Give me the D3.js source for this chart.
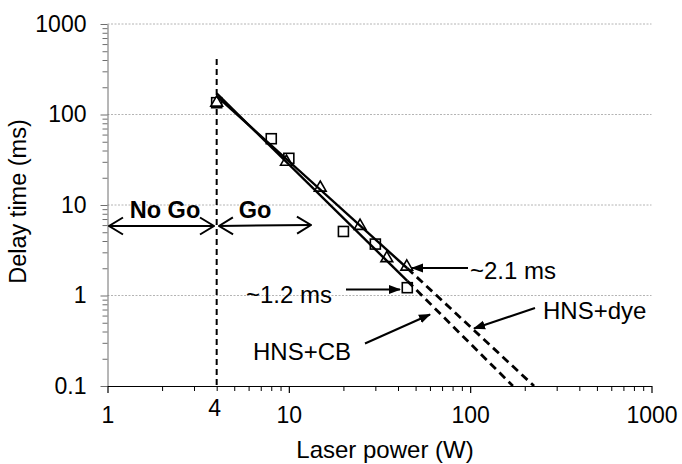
<!DOCTYPE html>
<html>
<head>
<meta charset="utf-8">
<script src="https://cdn.jsdelivr.net/npm/d3@7"></script>
<style>
    html, body { margin: 0; padding: 0; background: #fff; }
    svg text { font-family: Arial, 'Liberation Sans', sans-serif; fill: #000; }
</style>
</head>
<body>
<div id="chart"></div>
<script>

// HNS + carbon black (squares)
var cbPower = [ 4, 8, 10, 20, 30, 45 ];
var cbDelay = [ 135, 54, 32.8, 5.1, 3.7, 1.22 ];

// HNS + dye (triangles)
var dyePower = [ 4, 9.7, 14.9, 24.7, 34.7, 44.7 ];
var dyeDelay = [ 135, 30, 15.5, 5.86, 2.58, 2.08 ];

// trend lines: solid part then dashed extrapolation
var cbFitPower = [ 4, 45, 172 ];
var cbFitDelay = [ 171, 1.45, 0.1 ];
var dyeFitPower = [ 4, 45, 225 ];
var dyeFitDelay = [ 160, 2.0, 0.1 ];

var xTicks = [ 1, 10, 100, 1000 ];
var yTicks = [ 0.1, 1, 10, 100, 1000 ];
var thresholdPower = 4;

var width = 682,
    height = 464;

var svg = d3.select('#chart').append('svg')
    .attr('width', width)
    .attr('height', height);

var x = d3.scaleLog()
    .domain([ 1, 1000 ])
    .range([ 107.5, 651.5 ]);

var y = d3.scaleLog()
    .domain([ 0.1, 1000 ])
    .range([ 386, 24 ]);

function minors ( lo, hi ) {

    var out = [];
    for ( var d = lo; d < hi; d *= 10 ) {
        for ( var k = 2; k < 10; k ++ ) out.push( d * k );
    }
    return out;

}

var fmt = function ( d ) { return d < 1 ? d.toFixed(1) : String( d ) };

/* defs */

var defs = svg.append('defs');

defs.append('marker')
    .attr('id', 'head')
    .attr('viewBox', '0 0 12 10')
    .attr('refX', 11)
    .attr('refY', 5)
    .attr('markerWidth', 12)
    .attr('markerHeight', 10)
    .attr('markerUnits', 'userSpaceOnUse')
    .attr('orient', 'auto')
    .append('path')
    .attr('d', 'M0,0.5 L12,5 L0,9.5 Z')
    .style('fill', '#000');

defs.append('marker')
    .attr('id', 'chevron')
    .attr('viewBox', '0 0 16 20')
    .attr('refX', 15)
    .attr('refY', 10)
    .attr('markerWidth', 16)
    .attr('markerHeight', 20)
    .attr('markerUnits', 'userSpaceOnUse')
    .attr('orient', 'auto-start-reverse')
    .append('path')
    .attr('d', 'M1,1.5 L15,10 L1,18.5')
    .style('fill', 'none')
    .style('stroke', '#000')
    .style('stroke-width', 2);

// grid

svg.append('g').selectAll('line')
    .data( yTicks.slice(1) )
    .enter().append('line')
    .attr('x1', x(1))
    .attr('x2', x(1000))
    .attr('y1', function (d) { return y(d) })
    .attr('y2', function (d) { return y(d) })
    .style('stroke', '#b4b4b4')
    .style('stroke-width', 1)
    .style('stroke-dasharray', '2,1.5');

// axes

var yMinor = svg.append('g')
    .attr('transform', 'translate(' + x(1) + ',0)')
    .call( d3.axisLeft(y).tickValues( minors( 0.1, 1000 ) ).tickSize(5).tickFormat('') );

var yAxis = svg.append('g')
    .attr('transform', 'translate(' + x(1) + ',0)')
    .call( d3.axisLeft(y).tickValues( yTicks ).tickSize(7).tickSizeOuter(0).tickPadding(14).tickFormat( fmt ) );

var xMinor = svg.append('g')
    .attr('transform', 'translate(0,' + y(0.1) + ')')
    .call( d3.axisBottom(x).tickValues( minors( 1, 1000 ) ).tickSize(5).tickFormat('') );

var xAxis = svg.append('g')
    .attr('transform', 'translate(0,' + y(0.1) + ')')
    .call( d3.axisBottom(x).tickValues( xTicks ).tickSize(7).tickSizeOuter(0).tickPadding(14).tickFormat( fmt ) );

[ yMinor, xMinor ].forEach( function ( g ) { g.select('.domain').remove(); });

yMinor.selectAll('line').style('stroke', '#6e6e6e');
yAxis.selectAll('line, path').style('stroke', '#6e6e6e');
xMinor.selectAll('line').style('stroke', '#000');
xAxis.selectAll('line, path').style('stroke', '#000').style('stroke-width', 1.2);

svg.selectAll('.tick text')
    .style('font-size', '23px')
    .style('font-family', 'Arial, "Liberation Sans", sans-serif')
    .style('fill', '#000');

svg.append('text')
    .attr('x', x( thresholdPower ) - 2)
    .attr('y', 416)
    .attr('text-anchor', 'middle')
    .style('font-size', '23px')
    .text( thresholdPower );

// axis titles

svg.append('text')
    .attr('x', 385)
    .attr('y', 458)
    .attr('text-anchor', 'middle')
    .style('font-size', '24px')
    .text('Laser power (W)');

svg.append('text')
    .attr('transform', 'translate(25.5,201.5) rotate(-90)')
    .attr('text-anchor', 'middle')
    .style('font-size', '23.5px')
    .text('Delay time (ms)');

// threshold line

svg.append('line')
    .attr('x1', x( thresholdPower ))
    .attr('x2', x( thresholdPower ))
    .attr('y1', 59)
    .attr('y2', y(0.1))
    .style('stroke', '#000')
    .style('stroke-width', 2)
    .style('stroke-dasharray', '6,4');

// markers

var cb = cbPower.map( function ( p, i ) { return [ p, cbDelay[i] ] } );
var dye = dyePower.map( function ( p, i ) { return [ p, dyeDelay[i] ] } );

svg.append('g').selectAll('rect')
    .data( cb )
    .enter().append('rect')
    .attr('x', function (d) { return x( d[0] ) - 5 })
    .attr('y', function (d) { return y( d[1] ) - 5 })
    .attr('width', 10)
    .attr('height', 10)
    .style('fill', '#fff')
    .style('stroke', '#000')
    .style('stroke-width', 1.6);

var tri = d3.symbol().type( d3.symbolTriangle ).size(60);

svg.append('g').selectAll('path')
    .data( dye )
    .enter().append('path')
    .attr('d', tri)
    .attr('transform', function (d) { return 'translate(' + x( d[0] ) + ',' + y( d[1] ) + ')' })
    .style('fill', '#fff')
    .style('stroke', '#000')
    .style('stroke-width', 1.6);

// trend lines

var line = d3.line()
    .x( function (d) { return x( d[0] ) })
    .y( function (d) { return y( d[1] ) });

[ [ cbFitPower, cbFitDelay ], [ dyeFitPower, dyeFitDelay ] ].forEach( function ( fit ) {

    var pts = fit[0].map( function ( p, i ) { return [ p, fit[1][i] ] } );

    svg.append('path')
        .attr('d', line( pts.slice( 0, 2 ) ))
        .style('fill', 'none')
        .style('stroke', '#000')
        .style('stroke-width', 2.4);

    svg.append('path')
        .attr('d', line( pts.slice( 1 ) ))
        .style('fill', 'none')
        .style('stroke', '#000')
        .style('stroke-width', 2.8)
        .style('stroke-dasharray', '8,5');

});

// annotations

function arrow ( x1, y1, x2, y2, id ) {

    return svg.append('line')
        .attr('x1', x1).attr('y1', y1)
        .attr('x2', x2).attr('y2', y2)
        .style('stroke', '#000')
        .style('stroke-width', 2)
        .attr('marker-end', 'url(#' + id + ')');

}

arrow( 109, 226, 214, 226, 'chevron' ).attr('marker-start', 'url(#chevron)');
arrow( 219, 226, 311, 225, 'chevron' ).attr('marker-start', 'url(#chevron)');

svg.append('text')
    .attr('x', 165).attr('y', 217.5)
    .attr('text-anchor', 'middle')
    .style('font-size', '23.5px')
    .style('font-weight', 'bold')
    .text('No Go');

svg.append('text')
    .attr('x', 255).attr('y', 217.5)
    .attr('text-anchor', 'middle')
    .style('font-size', '23.5px')
    .style('font-weight', 'bold')
    .text('Go');

arrow( 468, 268, 412, 268, 'head' );
arrow( 346, 289.5, 400, 289.5, 'head' );
arrow( 535, 308, 474, 328.5, 'head' );
arrow( 365, 343.5, 430, 314.5, 'head' );

svg.append('text')
    .attr('x', 470).attr('y', 278.5)
    .style('font-size', '24px')
    .text('~2.1 ms');

svg.append('text')
    .attr('x', 246).attr('y', 303)
    .style('font-size', '24px')
    .text('~1.2 ms');

svg.append('text')
    .attr('x', 543).attr('y', 318.5)
    .style('font-size', '24px')
    .text('HNS+dye');

svg.append('text')
    .attr('x', 253).attr('y', 360)
    .style('font-size', '24px')
    .text('HNS+CB');

</script>
</body>
</html>
